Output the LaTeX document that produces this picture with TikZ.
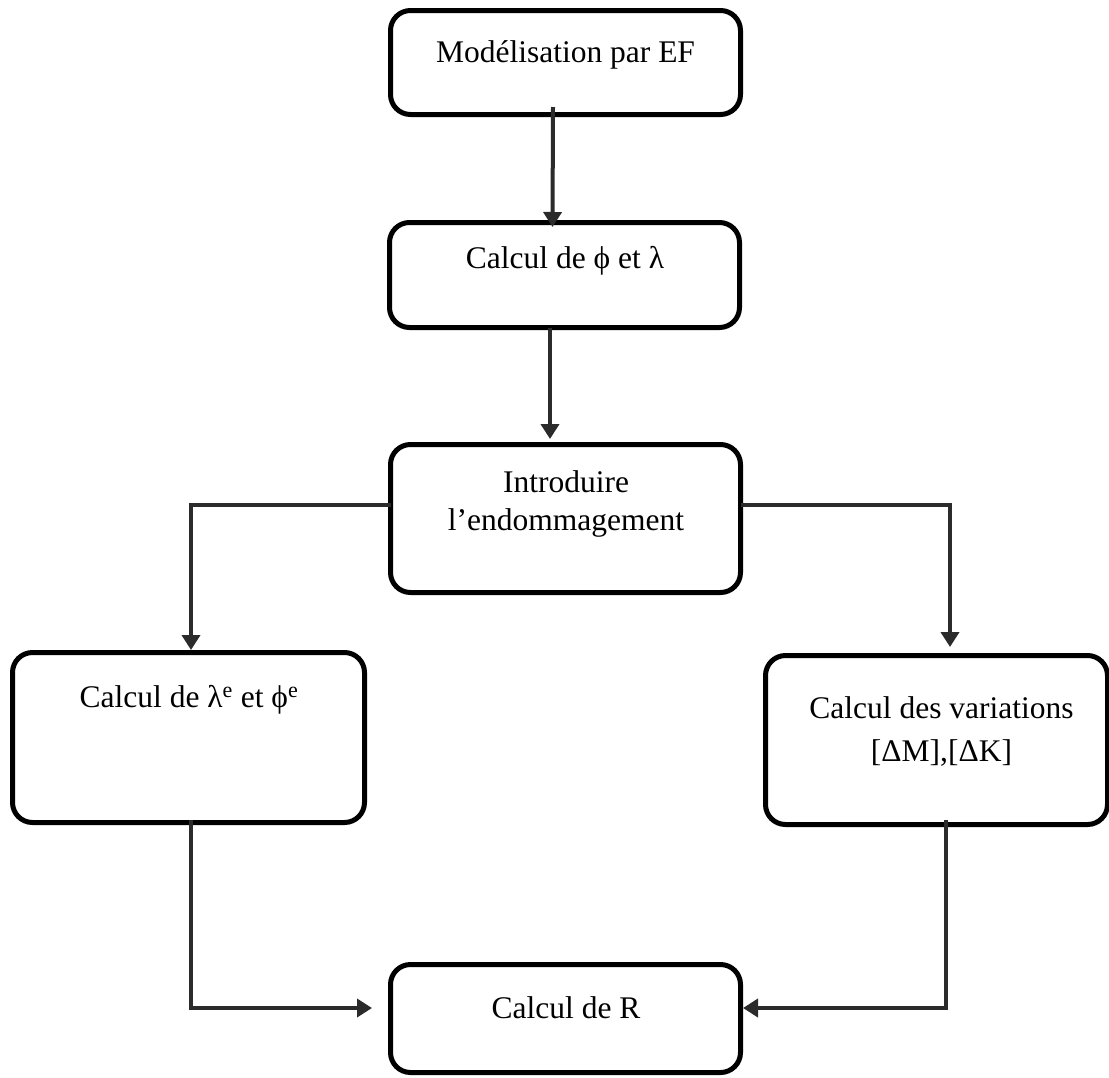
\documentclass[tikz,border=0pt]{standalone}
\usepackage{fontspec}
\setmainfont{Liberation Serif}
\usetikzlibrary{arrows.meta}
\definecolor{conncol}{HTML}{2B2B2B}
\tikzset{
  box/.style={draw=black, line width=5pt, rounded corners=20pt, inner sep=0pt, outer sep=0pt, fill=white},
  lbl/.style={anchor=base, inner sep=0pt, outer sep=0pt, font=\fontsize{31.5}{38}\selectfont},
  link/.style={draw=conncol, line width=4pt, -{Triangle[length=15pt,width=18pt]}},
}
\begin{document}
\begin{tikzpicture}[x=1pt,y=-1pt]
\clip (0,0) rectangle (1109,1077);
\fill[white] (0,0) rectangle (1109,1077);

% boxes
\node[box, minimum width=350pt, minimum height=104pt] (b1) at (565.5,62.5) {};
\node[box, minimum width=350pt, minimum height=105pt] (b2) at (564.5,275) {};
\node[box, minimum width=350pt, minimum height=148pt] (b3) at (565.5,518.5) {};
\node[box, minimum width=352pt, minimum height=170pt] (bL) at (188.5,737.5) {};
\node[box, minimum width=342pt, minimum height=169pt] (bR) at (936.5,740) {};
\node[box, minimum width=350pt, minimum height=108pt] (bB) at (565.5,1018.5) {};

% texts
\node[lbl] (t1) at (565.5,62) {Modélisation par EF};
\node[lbl] (t2) at (565,268) {Calcul de ϕ et λ};
\node[lbl] (t3a) at (566,492) {Introduire};
\node[lbl] (t3b) at (566,530) {l’endommagement};
\node[lbl] (tL) at (189,707) {Calcul de λ\textsuperscript{e} et ϕ\textsuperscript{e}};
\node[lbl] (tRa) at (941.5,718) {Calcul des variations};
\node[lbl] (tRb) at (941.5,761) {[ΔM],[ΔK]};
\node[lbl] (tB) at (566,1018) {Calcul de R};

% connectors
\draw[link] ([shift={(-12.5,-7.5)}]b1.south) -- ([shift={(-12,4.5)}]b2.north);
\draw[link] ([shift={(-14.5,0)}]b2.south) -- ([shift={(-15.5,-5.5)}]b3.north);
\draw[link] ([shift={(0,-13.5)}]b3.west) -| ([shift={(2.5,-2.5)}]bL.north);
\draw[link] ([shift={(0,-13.5)}]b3.east) -| ([shift={(13.5,-8.5)}]bR.north);
\draw[link] ([shift={(2.5,-2.5)}]bL.south) |- ([shift={(-18.5,-10.5)}]bB.west);
\draw[link] ([shift={(9.5,-4.5)}]bR.south) |- ([shift={(2.5,-10.5)}]bB.east);
\end{tikzpicture}
\end{document}
